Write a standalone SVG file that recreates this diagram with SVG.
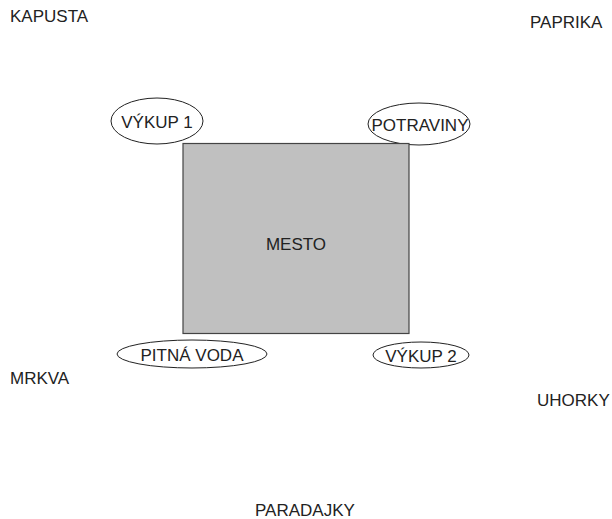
<svg xmlns="http://www.w3.org/2000/svg" width="612" height="519" viewBox="0 0 612 519">
<style>
text{font-family:"Liberation Sans",Arial,sans-serif;font-size:17px;fill:#222}
.mid{text-anchor:middle}
.ell{fill:#fff;stroke:#222;stroke-width:1}
</style>
<rect width="612" height="519" fill="#fff"/>
<g id="vykup1"><ellipse class="ell" cx="157" cy="121" rx="46" ry="23"/><text class="mid" x="157" y="128">VÝKUP 1</text></g>
<g id="potraviny"><ellipse class="ell" cx="419" cy="124" rx="51" ry="21"/><text class="mid" x="420" y="131">POTRAVINY</text></g>
<g id="pitna-voda"><ellipse class="ell" cx="192" cy="354" rx="75" ry="14"/><text class="mid" x="192" y="361">PITNÁ VODA</text></g>
<g id="vykup2"><ellipse class="ell" cx="421" cy="355" rx="48" ry="13"/><text class="mid" x="421" y="362">VÝKUP 2</text></g>
<g id="mesto"><rect x="183" y="143.5" width="226" height="190" fill="#c0c0c0" stroke="#444" stroke-width="1.2"/><text class="mid" x="296" y="250">MESTO</text></g>
<g id="kapusta"><text x="10" y="22">KAPUSTA</text></g>
<g id="paprika"><text x="530" y="28">PAPRIKA</text></g>
<g id="mrkva"><text x="10" y="384">MRKVA</text></g>
<g id="uhorky"><text x="537" y="406">UHORKY</text></g>
<g id="paradajky"><text x="255" y="516">PARADAJKY</text></g>
<g id="connectors"></g>
</svg>
